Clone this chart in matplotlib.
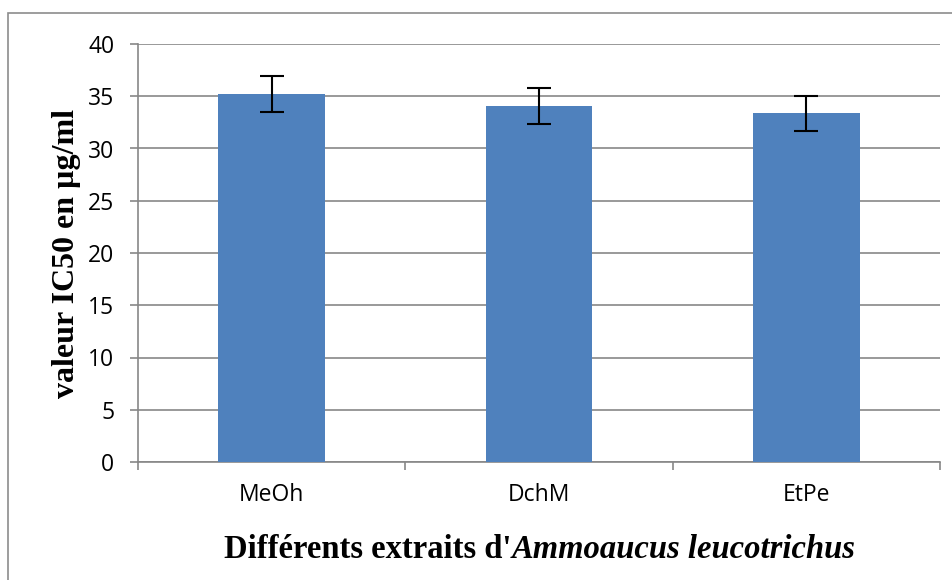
import numpy as np
import matplotlib.pyplot as plt
from matplotlib.patches import Rectangle

extraits = ['MeOh', 'DchM', 'EtPe']
ic50 = [35.2, 34.05, 33.35]
erreur = [1.75, 1.7, 1.65]
yticks = [0, 5, 10, 15, 20, 25, 30, 35, 40]

W, H = 953, 580
fig = plt.figure(figsize=(W / 100, H / 100), dpi=100)
ax = fig.add_axes([138 / W, 1 - 462 / H, (940 - 138) / W, (462 - 44) / H])

# cadre extérieur du graphique
fig.patches.append(Rectangle((8 / W, -0.1), 1.2, 1 - 13 / H + 0.1,
                             transform=fig.transFigure, fill=False,
                             edgecolor='#8c8c8c', linewidth=1.2))

x = np.arange(len(extraits))
ax.bar(x, ic50, width=0.4, color='#4f81bd', zorder=3,
       yerr=erreur, capsize=8.5,
       error_kw=dict(ecolor='black', elinewidth=1.5, capthick=1.5, zorder=4))

ax.set_xlim(-0.5, 2.5)
ax.set_ylim(0, 40)
ax.set_yticks(yticks)
ax.yaxis.grid(True, color='#878787', linewidth=1.2, zorder=0)
ax.set_axisbelow(True)

for s in ['top', 'right']:
    ax.spines[s].set_visible(False)
for s in ['left', 'bottom']:
    ax.spines[s].set_color('#878787')
    ax.spines[s].set_linewidth(1.2)

ax.set_xticks(x)
ax.set_xticklabels(extraits, fontsize=16.5, family='Open Sans')
ax.tick_params(axis='x', length=0, pad=15)
ax.set_xticks([-0.5, 0.5, 1.5, 2.5], minor=True)
ax.tick_params(axis='x', which='minor', length=6, color='#878787', width=1.2)
ax.tick_params(axis='y', length=6, color='#878787', width=1.2, labelsize=16.5, pad=11)
for lab in ax.get_yticklabels():
    lab.set_family('Open Sans')

ax.set_ylabel('valeur IC50 en µg/ml', family='Liberation Serif', fontweight='bold',
              fontsize=23, labelpad=5)

# titre de l'axe x : partie droite + nom d'espèce en italique
t1 = fig.text(0, 1 - 558 / H, "Différents extraits d'", family='Liberation Serif',
              fontweight='bold', fontsize=23.5, va='baseline')
t2 = fig.text(0, 1 - 558 / H, "Ammoaucus leucotrichus", family='Liberation Serif',
              fontweight='bold', fontstyle='italic', fontsize=23.5, va='baseline')
fig.canvas.draw()
w1 = t1.get_window_extent().width
w2 = t2.get_window_extent().width
x0 = 540 - (w1 + w2) / 2
t1.set_x(x0 / W)
t2.set_x((x0 + w1) / W)

plt.savefig('out.png', dpi=100)
